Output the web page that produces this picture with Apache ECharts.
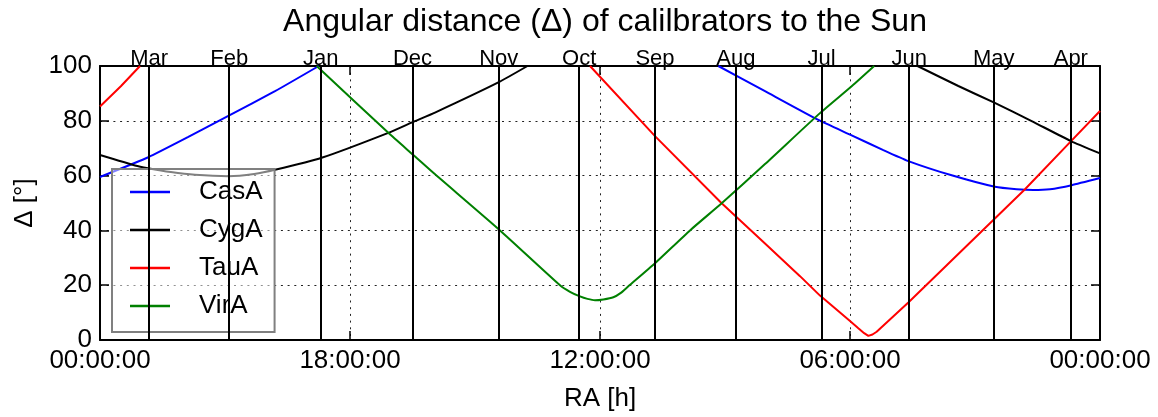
<!DOCTYPE html>
<html>
<head>
<meta charset="utf-8">
<title>Angular distance of calibrators to the Sun</title>
<script src="https://cdn.jsdelivr.net/npm/echarts@6/dist/echarts.min.js"></script>
<style>
  html, body { margin: 0; padding: 0; background: #fff; }
  #chart { width: 1158px; height: 417px; }
</style>
</head>
<body>
<div id="chart"></div>
<script>
// Sun right ascension (hours) vs. angular distance (degrees) for each calibrator.
// A null value breaks the line where the curve leaves the 0-100 degree window.
const casA = [
  [24, 59.5], [22.84, 66.7], [21.88, 74.1], [20.92, 81.8], [19.8, 90.8], [18.75, 100],
  [14, null],
  [9.16, 100], [8.04, 90.8], [6.76, 80.3], [5.96, 74.7], [5.2, 69.3], [4.6, 65.3], [3.56, 60.1],
  [2.52, 55.9], [2.0, 55.0], [1.6, 54.7], [1.2, 55.0], [0.68, 56.5], [0, 59.1]
];
const cygA = [
  [24, 67.5], [23.16, 63.7], [22.85, 62.7], [22.3, 61.3], [21.72, 60.3], [20.92, 59.8],
  [20.3, 60.6], [19.8, 62.1], [18.68, 66.5], [17.08, 75.6], [16.5, 79.5], [15.96, 83.0],
  [14.44, 94.0], [13.74, 100],
  [9, null],
  [4.38, 100], [3.4, 92.7], [2.55, 86.7], [1.64, 79.9], [0.7, 72.6], [0, 68.1]
];
const tauA = [
  [24, 85.2], [23.5, 92.6], [23.04, 100],
  [18, null],
  [12.24, 100], [10.68, 74.4], [9.08, 49.9], [8.04, 35.2], [7.2, 23.3], [6.72, 16.2],
  [6.0, 6.9], [5.8, 4.3], [5.66, 2.5], [5.56, 1.5], [5.46, 2.0], [5.36, 3.0], [4.6, 13.7],
  [2.56, 43.8], [1.8, 55.0], [0.7, 72.5], [0, 83.6]
];
const virA = [
  [18.8, 100], [17.08, 75.6], [16.48, 67.5], [16.0, 61.0], [14.4, 40.0], [12.96, 20.0],
  [12.72, 17.6], [12.48, 15.9], [12.3, 15.0], [12.12, 14.5], [11.92, 14.8], [11.68, 15.6],
  [11.5, 17.2], [11.32, 19.6], [10.68, 28.0], [9.84, 40.0], [9.08, 49.9], [8.04, 64.2],
  [6.72, 82.8], [5.96, 92.6], [5.42, 100]
];

// Sun right ascension at the start of each month
const months = ['Mar', 'Feb', 'Jan', 'Dec', 'Nov', 'Oct', 'Sep', 'Aug', 'Jul', 'Jun', 'May', 'Apr'];
const monthRA = [22.82, 20.9, 18.7, 16.5, 14.43, 12.5, 10.68, 8.74, 6.68, 4.58, 2.55, 0.7];

const raTicks = [0, 6, 12, 18, 24];
const raTickLabels = ['00:00:00', '06:00:00', '12:00:00', '18:00:00', '00:00:00'];

const FONT = 'Liberation Sans, Arial, Helvetica, sans-serif';
const dotted = { color: '#222', width: 1, type: [2, 4.7] };

function curve(name, color, data, smooth) {
  return {
    name: name,
    type: 'line',
    data: data,
    symbol: 'none',
    showSymbol: false,
    smooth: smooth,
    connectNulls: false,
    clip: true,
    z: 3,
    lineStyle: { color: color, width: 2 },
    itemStyle: { color: color }
  };
}

const chart = echarts.init(document.getElementById('chart'), null, { renderer: 'canvas' });

chart.setOption({
  animation: false,
  backgroundColor: '#fff',
  textStyle: { fontFamily: FONT },
  title: {
    text: 'Angular distance (\u0394) of calilbrators to the Sun',
    left: 600,
    top: 1,
    textAlign: 'center',
    textStyle: { fontFamily: FONT, fontSize: 32, fontWeight: 'normal', color: '#000' }
  },
  grid: { left: 100, right: 58, top: 66, bottom: 72, containLabel: false },
  legend: {
    orient: 'vertical',
    left: 112,
    top: 169,
    data: ['CasA', 'CygA', 'TauA', 'VirA'],
    icon: 'rect',
    itemWidth: 40,
    itemHeight: 2.5,
    itemGap: 12,
    padding: [10, 12, 13, 18],
    backgroundColor: 'rgba(255,255,255,0.5)',
    borderColor: '#808080',
    borderWidth: 2,
    borderRadius: 0,
    textStyle: { fontFamily: FONT, fontSize: 26, color: '#000', lineHeight: 26, padding: [0, 0, 0, 24] }
  },
  xAxis: [
    {
      type: 'value', position: 'bottom', min: 0, max: 24, interval: 6, inverse: true,
      name: 'RA [h]', nameLocation: 'middle', nameGap: 46,
      nameTextStyle: { fontFamily: FONT, fontSize: 26, color: '#000' },
      axisLine: { show: true, onZero: false, lineStyle: { color: '#000', width: 2 } },
      axisTick: { show: true, inside: true, length: 9, lineStyle: { color: '#000', width: 1.5 } },
      axisLabel: {
        fontFamily: FONT, fontSize: 26, color: '#000', margin: 8,
        formatter: function (v) { return raTickLabels[raTicks.indexOf(v)]; }
      },
      splitLine: { show: true, lineStyle: dotted }
    },
    {
      type: 'value', position: 'top', min: 0, max: 24, interval: 6, inverse: true,
      axisLine: { show: true, onZero: false, lineStyle: { color: '#000', width: 2 } },
      axisTick: { show: true, inside: true, length: 9, lineStyle: { color: '#000', width: 1.5 } },
      axisLabel: { show: false },
      splitLine: { show: false }
    }
  ],
  yAxis: [
    {
      type: 'value', position: 'left', min: 0, max: 100, interval: 20,
      name: '\u0394 [\u00b0]', nameLocation: 'middle', nameGap: 62, nameRotate: 90,
      nameTextStyle: { fontFamily: FONT, fontSize: 26, color: '#000' },
      axisLine: { show: true, onZero: false, lineStyle: { color: '#000', width: 2 } },
      axisTick: { show: true, inside: true, length: 9, lineStyle: { color: '#000', width: 1.5 } },
      axisLabel: { fontFamily: FONT, fontSize: 26, color: '#000', margin: 8 },
      splitLine: { show: true, lineStyle: dotted }
    },
    {
      type: 'value', position: 'right', min: 0, max: 100, interval: 20,
      axisLine: { show: true, onZero: false, lineStyle: { color: '#000', width: 2 } },
      axisTick: { show: true, inside: true, length: 9, lineStyle: { color: '#000', width: 1.5 } },
      axisLabel: { show: false },
      splitLine: { show: false }
    }
  ],
  series: [
    {
      name: 'months',
      type: 'line',
      data: [],
      z: 2,
      silent: true,
      markLine: {
        silent: true,
        symbol: ['none', 'none'],
        animation: false,
        lineStyle: { color: '#000', width: 2, type: 'solid' },
        label: {
          show: true, position: 'end', distance: -4,
          formatter: '{b}', fontFamily: FONT, fontSize: 22, color: '#000'
        },
        emphasis: { disabled: true },
        data: months.map(function (m, i) { return { name: m, xAxis: monthRA[i] }; })
      }
    },
    curve('CasA', '#0000ff', casA, 0.15),
    curve('CygA', '#000000', cygA, 0.15),
    curve('TauA', '#ff0000', tauA, false),
    curve('VirA', '#008000', virA, 0.2)
  ]
});
</script>
</body>
</html>
